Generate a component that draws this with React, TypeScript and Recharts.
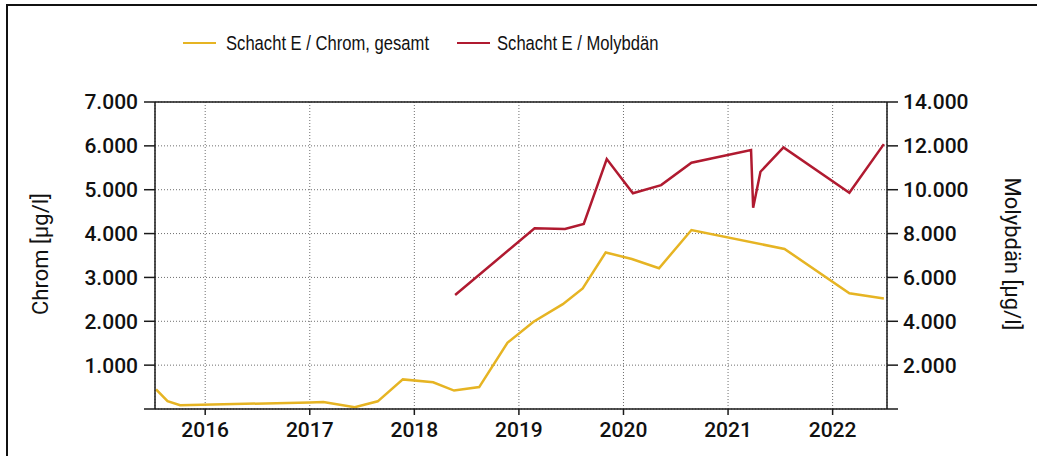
import React from 'react';
import { LineChart, Line, XAxis, YAxis, CartesianGrid, ReferenceLine } from 'recharts';

const chromDates = [2015.53, 2015.64, 2015.76, 2017.0, 2017.13, 2017.43, 2017.65, 2017.89, 2018.18, 2018.38, 2018.62, 2018.89, 2019.14, 2019.42, 2019.61, 2019.83, 2020.08, 2020.34, 2020.65, 2021.54, 2022.16, 2022.49];
const chromValues = [450, 180, 85, 150, 160, 40, 175, 675, 610, 420, 500, 1510, 1990, 2390, 2750, 3570, 3420, 3210, 4080, 3650, 2640, 2520];

const molyDates = [2018.39, 2019.15, 2019.44, 2019.62, 2019.84, 2020.09, 2020.36, 2020.65, 2021.22, 2021.24, 2021.31, 2021.53, 2022.16, 2022.49];
const molyValues = [5200, 8240, 8210, 8440, 11400, 9840, 10210, 11230, 11810, 9180, 10820, 11930, 9860, 12080];

const yearTicks = [2016, 2017, 2018, 2019, 2020, 2021, 2022];
const leftTicks = [0, 1000, 2000, 3000, 4000, 5000, 6000, 7000];
const rightTicks = [0, 2000, 4000, 6000, 8000, 10000, 12000, 14000];

const chromName = 'Schacht E / Chrom, gesamt';
const molyName = 'Schacht E / Molybdän';
const leftTitle = 'Chrom [µg/l]';
const rightTitle = 'Molybdän [µg/l]';

const chromData = chromDates.map((t, i) => ({ t, v: chromValues[i] }));
const molyData = molyDates.map((t, i) => ({ t, v: molyValues[i] }));

const YELLOW = '#E6B423';
const RED = '#B01A30';
const AXIS = '#1a1a1a';
const TICK_FONT = 'Roboto, "Liberation Sans", Arial, sans-serif';
const LEGEND_FONT = '"Liberation Sans", Arial, sans-serif';

const fmt = (v: number) => (v === 0 ? '' : v.toLocaleString('de-DE'));

const legendText: React.CSSProperties = {
  position: 'absolute',
  top: 31,
  height: 24,
  lineHeight: '24px',
  fontFamily: LEGEND_FONT,
  fontSize: 20.5,
  color: '#111',
  whiteSpace: 'nowrap',
  transform: 'scaleX(0.81)',
  transformOrigin: 'left center',
};

export default function App() {
  return (
    <div style={{ position: 'absolute', left: 0, top: 0, width: 1037, height: 456, overflow: 'hidden', background: '#fff' }}>
      <div style={{ position: 'absolute', left: 6, top: 4, width: 1100, height: 600, border: '2px solid #111', boxSizing: 'border-box' }} />
      <LineChart
        width={1037}
        height={456}
        margin={{ top: 102, right: 0, bottom: 0, left: 0 }}
        style={{ position: 'absolute', left: 0, top: 0 }}
      >
        <CartesianGrid yAxisId="left" stroke="#6f6f6f" strokeDasharray="1 2" />
        <XAxis
          dataKey="t"
          type="number"
          domain={[2015.52, 2022.52]}
          ticks={yearTicks}
          allowDataOverflow
          tickFormatter={(v: number) => String(v)}
          height={47}
          tickSize={6}
          tickMargin={7}
          stroke={AXIS}
          strokeWidth={1.5}
          tick={{ fill: '#111', fontSize: 21, fontFamily: TICK_FONT, fontWeight: 500 }}
        />
        <YAxis
          yAxisId="left"
          orientation="left"
          domain={[0, 7000]}
          ticks={leftTicks}
          width={155}
          tickSize={11}
          tickMargin={6}
          stroke={AXIS}
          strokeWidth={1.5}
          tickFormatter={fmt}
          tick={{ fill: '#111', fontSize: 21, fontFamily: TICK_FONT, fontWeight: 500 }}
        />
        <YAxis
          yAxisId="right"
          orientation="right"
          domain={[0, 14000]}
          ticks={rightTicks}
          width={150}
          tickSize={11}
          tickMargin={5}
          stroke={AXIS}
          strokeWidth={1.5}
          tickFormatter={fmt}
          tick={{ fill: '#111', fontSize: 21, fontFamily: TICK_FONT, fontWeight: 500 }}
        />
        <ReferenceLine yAxisId="left" y={7000} stroke={AXIS} strokeWidth={1.5} />
        <Line
          yAxisId="left"
          data={chromData}
          dataKey="v"
          name={chromName}
          type="linear"
          stroke={YELLOW}
          strokeWidth={2.5}
          dot={false}
          activeDot={false}
          isAnimationActive={false}
        />
        <Line
          yAxisId="right"
          data={molyData}
          dataKey="v"
          name={molyName}
          type="linear"
          stroke={RED}
          strokeWidth={2.5}
          dot={false}
          activeDot={false}
          isAnimationActive={false}
        />
      </LineChart>
      <div style={{ position: 'absolute', left: 183, top: 42, width: 33, borderTop: `2.5px solid ${YELLOW}` }} />
      <div style={{ ...legendText, left: 226 }}>{chromName}</div>
      <div style={{ position: 'absolute', left: 457, top: 42, width: 33, borderTop: `2.5px solid ${RED}` }} />
      <div style={{ ...legendText, left: 497 }}>{molyName}</div>
      <div style={{ position: 'absolute', left: 40, top: 254, transform: 'translate(-50%, -50%) rotate(-90deg)', fontFamily: TICK_FONT, fontSize: 22, color: '#111', whiteSpace: 'nowrap' }}>
        {leftTitle}
      </div>
      <div style={{ position: 'absolute', left: 1012, top: 254, transform: 'translate(-50%, -50%) rotate(90deg)', fontFamily: TICK_FONT, fontSize: 22, color: '#111', whiteSpace: 'nowrap' }}>
        {rightTitle}
      </div>
    </div>
  );
}
